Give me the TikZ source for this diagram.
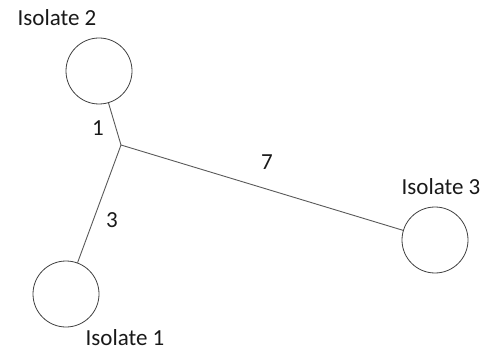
\documentclass[tikz,border=0pt]{standalone}
\usepackage{fontspec}
\setmainfont{Carlito}
\begin{document}
\begin{tikzpicture}[x=1pt,y=-1pt,
  iso/.style={circle,draw=black!75,line width=0.8pt,minimum size=66pt,inner sep=0pt},
  lbl/.style={font=\fontsize{23}{26}\selectfont,inner sep=0pt,text=black!90},
  edge/.style={draw=black!65,line width=0.9pt}]
\useasboundingbox (0,0) rectangle (494,352);
\node[iso] (i2) at (99,71) {};
\node[iso] (i1) at (66,294) {};
\node[iso] (i3) at (435,240) {};
\coordinate (j) at (121,145);
\draw[edge] (j) -- (i2);
\draw[edge] (j) -- (i1);
\draw[edge] (j) -- (i3);
\node[lbl] (t2) at (57,18) {Isolate 2};
\node[lbl] (t1) at (125,338) {Isolate 1};
\node[lbl] (t3) at (441,187) {Isolate 3};
\node[lbl] (w1) at (98,128) {1};
\node[lbl] (w3) at (112,220) {3};
\node[lbl] (w7) at (267,162) {7};
\end{tikzpicture}
\end{document}
